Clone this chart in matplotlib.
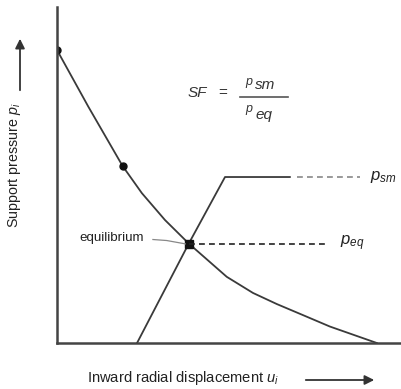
import matplotlib.pyplot as plt
import numpy as np

plt.rcParams['font.family'] = ['Liberation Sans', 'DejaVu Sans']
plt.rcParams['mathtext.fontset'] = 'custom'
plt.rcParams['mathtext.rm'] = 'Liberation Sans'
plt.rcParams['mathtext.it'] = 'Liberation Sans:italic'

# ground reaction curve (inward displacement vs support pressure)
grc_u = [0.0, 0.91, 1.90, 2.46, 3.13, 3.82, 4.92, 5.68, 6.37, 7.13, 7.91, 9.27]
grc_p = [8.72, 7.03, 5.27, 4.46, 3.66, 2.96, 1.97, 1.49, 1.16, 0.83, 0.49, 0.0]

# support reaction curve
src_u = [2.32, 3.82, 4.87, 6.75]
src_p = [0.0, 2.96, 4.94, 4.94]

# marked points
dot_u = [0.0, 1.90]
dot_p = [8.72, 5.27]
eq_u, eq_p = 3.82, 2.96
sm_p = 4.94

fig = plt.figure(figsize=(4.02, 3.89), dpi=100)
ax = fig.add_axes([57/402, (389-343)/389, 345/402, 336/389])
ax.set_xlim(0, 10)
ax.set_ylim(0, 10)

lc = '#3a3a3a'
ax.plot(grc_u, grc_p, color=lc, lw=1.3)
ax.plot(src_u, src_p, color=lc, lw=1.3)
ax.plot(dot_u, dot_p, 'o', color='#111111', ms=5)
ax.plot([eq_u], [eq_p], 's', color='#111111', ms=5.5)

# dashed guide lines
ax.plot([eq_u, 7.86], [eq_p, eq_p], color='#222222', lw=1.2, ls=(0, (3.5, 2.5)))
ax.plot([6.96, 8.78], [sm_p, sm_p], color='#888888', lw=1.2, ls=(0, (3.5, 2.5)))

ax.text(9.07, sm_p, '$p_{sm}$', fontsize=12, va='center', ha='left', color='#222222')
ax.text(8.2, eq_p, '$p_{eq}$', fontsize=12, va='center', ha='left', color='#222222')

# equilibrium label and leader
ax.text(0.66, 3.13, 'equilibrium', fontsize=9.6, va='center', ha='left', color='#222222')
ax.plot([2.78, 3.18, 3.72], [3.08, 3.05, 2.95], color='#888888', lw=0.9)

# safety factor formula
ax.text(3.77, 7.43, 'SF', fontsize=11, style='italic', va='center', ha='left', color='#333333')
ax.text(4.81, 7.43, '=', fontsize=11, va='center', ha='center', color='#333333')
ax.plot([5.30, 6.70], [7.32, 7.32], color='#555555', lw=1.2)
ax.text(5.45, 7.78, 'p', fontsize=9, style='italic', va='center', ha='left', color='#333333')
ax.text(5.75, 7.68, 'sm', fontsize=11, style='italic', va='center', ha='left', color='#333333')
ax.text(5.45, 6.95, 'p', fontsize=9, style='italic', va='center', ha='left', color='#333333')
ax.text(5.75, 6.80, 'eq', fontsize=11, style='italic', va='center', ha='left', color='#333333')

for s in ['top', 'right']:
    ax.spines[s].set_visible(False)
for s in ['left', 'bottom']:
    ax.spines[s].set_color('#444444')
    ax.spines[s].set_linewidth(1.8)
ax.set_xticks([])
ax.set_yticks([])
ax.patch.set_alpha(0)

# axis titles with arrows
fig.text(15/402, 1 - 165/389, 'Support pressure $p_i$', rotation=90, fontsize=10.3,
         va='center', ha='center', color='#222222')
fig.text(183/402, 1 - 378/389, 'Inward radial displacement $u_i$', fontsize=10.6,
         va='center', ha='center', color='#222222')
ax.annotate('', xy=(20/402, 1 - 36/389), xytext=(20/402, 1 - 93/389),
            xycoords='figure fraction',
            arrowprops=dict(arrowstyle='-|>', color='#333333', lw=1.3, mutation_scale=14))
ax.annotate('', xy=(377/402, 1 - 380/389), xytext=(303/402, 1 - 380/389),
            xycoords='figure fraction',
            arrowprops=dict(arrowstyle='-|>', color='#333333', lw=1.3, mutation_scale=14))

fig.savefig('out.png', dpi=100)
